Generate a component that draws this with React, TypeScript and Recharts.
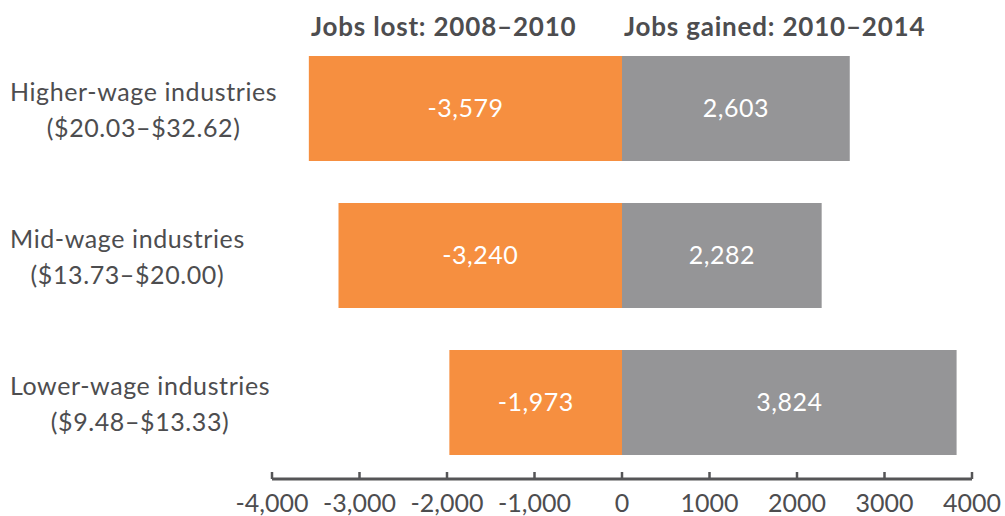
import { Bar, BarChart, LabelList, XAxis, YAxis } from 'recharts'

const CATEGORIES = ['Higher-wage industries', 'Mid-wage industries', 'Lower-wage industries']
const WAGE_RANGES = ['($20.03–$32.62)', '($13.73–$20.00)', '($9.48–$13.33)']
const JOBS_LOST = [-3579, -3240, -1973]
const JOBS_GAINED = [2603, 2282, 3824]
const TICKS = [-4000, -3000, -2000, -1000, 0, 1000, 2000, 3000, 4000]
const TICK_LABELS = ['-4,000', '-3,000', '-2,000', '-1,000', '0', '1000', '2000', '3000', '4000']
const SERIES_TITLES = ['Jobs lost: 2008–2010', 'Jobs gained: 2010–2014']

const ORANGE = '#f68f40'
const GRAY = '#959597'
const TEXT = '#4d4d4f'
const FONT = 'Lato, "Open Sans", sans-serif'

const data = CATEGORIES.map((name, i) => ({
  name,
  range: WAGE_RANGES[i],
  lost: JOBS_LOST[i],
  gained: JOBS_GAINED[i],
}))

const fmt = (v: number) => v.toLocaleString('en-US')

function CategoryTick(props: any) {
  const { y, payload, index } = props
  return (
    <foreignObject x={0} y={y - 40} width={300} height={80} style={{ overflow: 'visible' }}>
      <div
        style={{
          height: 80,
          display: 'flex',
          alignItems: 'center',
          paddingLeft: 10,
          fontFamily: FONT,
          fontSize: 25,
          letterSpacing: 0.6,
          color: TEXT,
        }}
      >
        <div style={{ display: 'inline-block', textAlign: 'center', lineHeight: '36px', whiteSpace: 'nowrap' }}>
          <div>{payload.value}</div>
          <div>{WAGE_RANGES[index]}</div>
        </div>
      </div>
    </foreignObject>
  )
}

function ValueTick(props: any) {
  const { x, y, index } = props
  return (
    <g>
      <line x1={x} x2={x} y1={y - 7} y2={y} stroke="#555557" strokeWidth={2.5} />
      <text
        x={x}
        y={y + 33}
        textAnchor="middle"
        fontFamily={FONT}
        fontSize={25}
        fill={TEXT}
      >
        {TICK_LABELS[index]}
      </text>
    </g>
  )
}

const titleStyle = {
  position: 'absolute' as const,
  top: 10,
  fontFamily: FONT,
  fontWeight: 700,
  fontSize: 26,
  color: TEXT,
  whiteSpace: 'nowrap' as const,
  letterSpacing: 0.8,
}

function App() {
  return (
    <div style={{ position: 'absolute', left: 0, top: 0, width: 1005, height: 516, background: '#fff' }}>
      <div style={{ ...titleStyle, left: 311 }}>{SERIES_TITLES[0]}</div>
      <div style={{ ...titleStyle, left: 624 }}>{SERIES_TITLES[1]}</div>
      <BarChart
        width={1005}
        height={516}
        data={data}
        layout="vertical"
        stackOffset="sign"
        margin={{ top: 35, right: 33, left: 0, bottom: 0 }}
      >
        <XAxis
          type="number"
          domain={[-4000, 4000]}
          ticks={TICKS}
          interval={0}
          tickSize={0}
          tickMargin={0}
          tickLine={false}
          axisLine={{ stroke: '#555557', strokeWidth: 3 }}
          tick={<ValueTick />}
          height={37}
        />
        <YAxis
          type="category"
          dataKey="name"
          width={272}
          axisLine={false}
          tickLine={false}
          tick={<CategoryTick />}
          padding={{ top: 0, bottom: 3 }}
        />
        <Bar dataKey="lost" stackId="a" fill={ORANGE} barSize={105} isAnimationActive={false}>
          <LabelList
            dataKey="lost"
            position="center"
            formatter={(v: any) => fmt(v)}
            fill="#fff"
            fontFamily={FONT}
            fontSize={25}
            letterSpacing={0.5}
          />
        </Bar>
        <Bar dataKey="gained" stackId="a" fill={GRAY} barSize={105} isAnimationActive={false}>
          <LabelList
            dataKey="gained"
            position="center"
            formatter={(v: any) => fmt(v)}
            fill="#fff"
            fontFamily={FONT}
            fontSize={25}
            letterSpacing={0.5}
          />
        </Bar>
      </BarChart>
    </div>
  )
}

export default App
